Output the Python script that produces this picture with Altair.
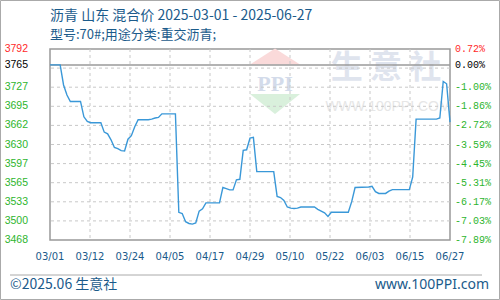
import altair as alt
import pandas as pd

# ---- data ----
days = [0, 3, 4, 5, 6, 9, 10, 11, 12, 15, 16, 17, 18, 19, 20, 21, 22, 23, 24, 25, 26, 29,
        30, 31, 32, 33, 37, 38, 39, 40, 41, 42, 43, 44, 45, 46, 50, 51, 52, 53, 54, 55, 56,
        57, 58, 59, 60, 61, 66, 67, 68, 69, 70, 71, 72, 73, 74, 78, 79, 80, 81, 82, 83, 88,
        89, 90, 94, 95, 96, 97, 99, 100, 101, 106, 107, 108, 114, 115, 116, 117, 118]
prices = [3765, 3765, 3731, 3714, 3703, 3703, 3677, 3669, 3667, 3667, 3651, 3648, 3638,
          3625, 3623, 3619.5, 3619, 3639, 3645, 3660, 3672, 3672,
          3673, 3675, 3676, 3682, 3682, 3515, 3513, 3499, 3496, 3495, 3497, 3517, 3521, 3531,
          3531, 3557, 3555, 3553, 3553, 3570, 3571,
          3620, 3621, 3641, 3642, 3584, 3584, 3542, 3540, 3535, 3524, 3522, 3521.5, 3522,
          3524, 3524, 3520, 3517, 3514, 3508, 3515, 3515,
          3533, 3557, 3558, 3559, 3550, 3547, 3547, 3551, 3553.5, 3553.5, 3575, 3673, 3673,
          3675, 3737, 3733, 3668]

x_tick_days = [0, 11.8, 23.6, 35.4, 47.2, 59, 70.8, 82.6, 94.4, 106.2, 118]
x_tick_labels = ["03/01", "03/12", "03/24", "04/05", "04/17", "04/29", "05/10",
                 "05/22", "06/03", "06/15", "06/27"]

y_tick_values = [3468, 3500.4, 3532.8, 3565.2, 3597.6, 3630, 3662.4, 3694.8, 3727.2, 3765, 3792]
y_tick_labels = ["3468", "3500", "3533", "3565", "3597", "3630", "3662", "3695", "3727",
                 "3765", "3792"]
pct_labels = ["-7.89%", "-7.03%", "-6.17%", "-5.31%", "-4.45%", "-3.59%", "-2.72%",
              "-1.86%", "-1.00%", "0.00%", "0.72%"]
tick_kind = ["down"] * 9 + ["base", "up"]

grid_y = [3500.4, 3532.8, 3565.2, 3597.6, 3630, 3662.4, 3694.8, 3727.2, 3759.6]
grid_x = [11.8, 23.6, 35.4, 47.2, 59, 70.8, 82.6, 94.4, 106.2]
base_price = [3765]

title_text = "沥青 山东 混合价 2025-03-01 - 2025-06-27"
subtitle_text = "型号:70#;用途分类:重交沥青;"

# ---- tables ----
series = pd.DataFrame({"day": days, "price": prices})
yticks = pd.DataFrame({"v": y_tick_values, "lab": y_tick_labels, "pct": pct_labels, "kind": tick_kind})
xticks = pd.DataFrame({"d": x_tick_days, "lab": x_tick_labels})
gy = pd.DataFrame({"v": grid_y})
gx = pd.DataFrame({"d": grid_x})
base = pd.DataFrame({"v": base_price})
one = pd.DataFrame({"a": [0]})

xs = alt.Scale(domain=[0, 118], nice=False, zero=False)
ys = alt.Scale(domain=[3468, 3792], nice=False, zero=False)

TEXT_BLUE = "#1b5b8b"
GRID = "#c8c8c8"

kind_color = alt.Color("kind:N", scale=alt.Scale(domain=["down", "base", "up"],
                                                 range=["#2db52d", "#000000", "#ff2a2a"]),
                       legend=None)

frame = alt.Chart(one).mark_rect(fill=None, stroke="#aaaaaa", strokeWidth=1).encode(
    x=alt.value(-49.5), x2=alt.value(449.5), y=alt.value(-48.5), y2=alt.value(250.5))

# watermark
wm_red = alt.Chart(one).mark_point(shape="M-1,0.32L0,-0.32L1,0.32Z", filled=True,
                                   color="#fadada", opacity=1, size=2500).encode(
    x=alt.value(225), y=alt.value(7.5))
wm_green = alt.Chart(one).mark_point(shape="M-1,-0.4L1,-0.4L0,0.4Z", filled=True,
                                     color="#d9f0dc", opacity=1, size=2500).encode(
    x=alt.value(225), y=alt.value(55))
wm_ppi = alt.Chart(one).mark_text(text="PPI", font="Liberation Serif", fontWeight="bold",
                                  fontSize=22, color="#d3dbea", baseline="middle").encode(
    x=alt.value(225), y=alt.value(34.5))
wm_sys = alt.Chart(one).mark_text(text="生 意 社", font="Noto Sans CJK SC", fontWeight="bold",
                                  fontSize=32, color="#dfe4ee",
                                  baseline="middle").encode(
    x=alt.value(336), y=alt.value(18.5))
wm_www = alt.Chart(one).mark_text(text="WWW.100PPI.COM", font="Liberation Sans",
                                  fontSize=14, color="#e6e6e6", baseline="middle").encode(
    x=alt.value(338), y=alt.value(57.5))

hgrid = alt.Chart(gy).mark_rule(stroke=GRID, strokeDash=[3, 3], strokeWidth=1).encode(
    y=alt.Y("v:Q", scale=ys, axis=None))
vgrid = alt.Chart(gx).mark_rule(stroke=GRID, strokeDash=[3, 3], strokeWidth=1).encode(
    x=alt.X("d:Q", scale=xs, axis=None))
base_rule = alt.Chart(base).mark_rule(stroke="#9a9a9a", strokeWidth=1.5).encode(
    y=alt.Y("v:Q", scale=ys, axis=None))

line = alt.Chart(series).mark_line(color="#3a98d8", strokeWidth=1.4).encode(
    x=alt.X("day:Q", scale=xs, axis=None),
    y=alt.Y("price:Q", scale=ys, axis=None))

left_labels = alt.Chart(yticks).mark_text(align="right", baseline="middle",
                                          font="Liberation Sans", fontSize=10.5).encode(
    y=alt.Y("v:Q", scale=ys, axis=None), x=alt.value(-22), text="lab:N", color=kind_color)
right_labels = alt.Chart(yticks).mark_text(align="left", baseline="middle",
                                           font="Liberation Mono", fontSize=10).encode(
    y=alt.Y("v:Q", scale=ys, axis=None), x=alt.value(405), text="pct:N", color=kind_color)

x_labels = alt.Chart(xticks).mark_text(align="center", baseline="middle",
                                       font="DejaVu Sans", fontSize=10, color=TEXT_BLUE).encode(
    x=alt.X("d:Q", scale=xs, axis=None), y=alt.value(208), text="lab:N")

title = alt.Chart(one).mark_text(text=title_text, align="left", baseline="middle",
                                 font="Noto Sans CJK SC", fontSize=14, color=TEXT_BLUE).encode(
    x=alt.value(0), y=alt.value(-33))
subtitle = alt.Chart(one).mark_text(text=subtitle_text, align="left", baseline="middle",
                                    font="Noto Sans CJK SC", fontSize=13, color=TEXT_BLUE).encode(
    x=alt.value(0), y=alt.value(-14))

footer_rule = alt.Chart(one).mark_rule(stroke="#aaaaaa", strokeWidth=1).encode(
    x=alt.value(-40), x2=alt.value(432), y=alt.value(226))
footer_left = alt.Chart(one).mark_text(text="©2025.06 生意社", align="left", baseline="middle",
                                       font="Noto Sans CJK SC", fontSize=14, color=TEXT_BLUE).encode(
    x=alt.value(-40), y=alt.value(236))
footer_right = alt.Chart(one).mark_text(text="www.100PPI.com", align="right", baseline="middle",
                                        font="Noto Sans", fontSize=14, color=TEXT_BLUE).encode(
    x=alt.value(439), y=alt.value(236))

chart = alt.layer(
    frame, wm_red, wm_green, wm_ppi, wm_sys, wm_www,
    hgrid, vgrid, base_rule, line,
    left_labels, right_labels, x_labels, title, subtitle,
    footer_rule, footer_left, footer_right
).properties(
    width=400, height=191,
    autosize=alt.AutoSizeParams(type="none"),
    padding={"left": 50, "top": 49, "right": 50, "bottom": 60},
    background="white",
).configure_view(stroke="#999999", strokeWidth=1.5)

chart.save("out.html", embed_options={"renderer": "svg", "actions": False})
